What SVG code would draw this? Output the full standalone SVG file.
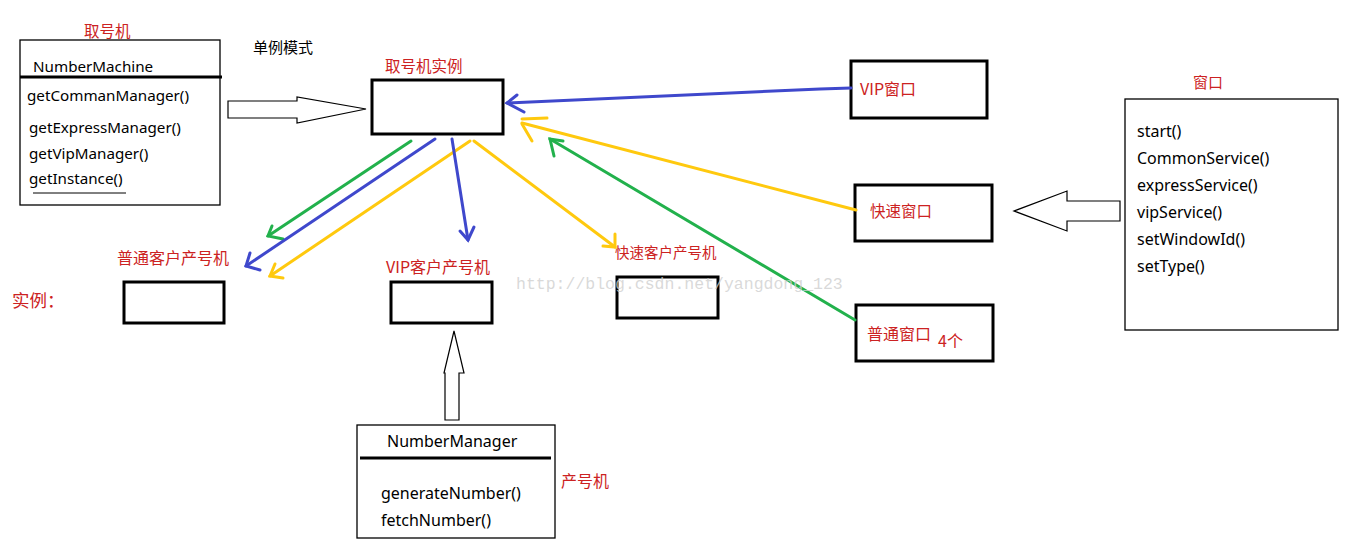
<svg xmlns="http://www.w3.org/2000/svg" width="1347" height="543" viewBox="0 0 1347 543">
<style>
.bg{fill:#fff}
.thin{fill:#fff;stroke:#000;stroke-width:1.3}
.thick{fill:#fff;stroke:#000;stroke-width:3}
.t{font-family:"Noto Sans","Liberation Sans","Noto Sans CJK SC",sans-serif;font-size:15.2px;fill:#000}
.t2{font-family:"Noto Sans","Liberation Sans","Noto Sans CJK SC",sans-serif;font-size:16px;fill:#000}
.r{font-family:"Noto Sans CJK SC","Noto Sans",sans-serif;font-size:15.5px;fill:#cc2222}
.k{font-family:"Noto Sans CJK SC",sans-serif;font-size:15px;fill:#000}
.wm{font-family:"Liberation Mono",monospace;font-size:16.5px;fill:#cfcfcf;fill-opacity:0.8}
.hollow{fill:#fff;stroke:#000;stroke-width:1.2;stroke-linejoin:miter}
.b{stroke:#3f48cc;stroke-width:3;fill:none;stroke-linecap:round}
.g{stroke:#22b14c;stroke-width:3;fill:none;stroke-linecap:round}
.y{stroke:#ffc90e;stroke-width:3;fill:none;stroke-linecap:round}
</style>
<rect class="bg" x="0" y="0" width="1347" height="543"/>

<g id="numberMachine">
<text class="r" x="84" y="37">取号机</text>
<rect class="thin" x="20" y="40" width="200" height="165"/>
<line x1="20" y1="77" x2="222" y2="77" stroke="#000" stroke-width="3"/>
<text class="t" x="33" y="72">NumberMachine</text>
<text class="t" x="27" y="101">getCommanManager()</text>
<text class="t" x="29" y="133">getExpressManager()</text>
<text class="t" x="29" y="159">getVipManager()</text>
<text class="t" x="29" y="184">getInstance()</text>
<line x1="33" y1="193" x2="126" y2="193" stroke="#000" stroke-width="1"/>
</g>

<g id="singletonLabel">
<text class="k" x="253" y="53">单例模式</text>
</g>

<g id="instance">
<text class="r" x="385" y="72">取号机实例</text>
<rect class="thick" x="372" y="80" width="131" height="54"/>
</g>

<g id="vipWindow">
<rect class="thick" x="851" y="61" width="136" height="57"/>
<text class="r" x="860" y="95" style="font-size:16px">VIP窗口</text>
</g>
<g id="expressWindow">
<rect class="thick" x="855" y="185" width="137" height="56"/>
<text class="r" x="870" y="217">快速窗口</text>
</g>
<g id="commonWindow">
<rect class="thick" x="856" y="305" width="137" height="56"/>
<text class="r" x="867" y="340" style="font-size:16px">普通窗口</text>
<text class="r" x="938" y="347" style="font-size:16px">4个</text>
</g>

<g id="window">
<text class="r" x="1193" y="88" style="font-size:15px">窗口</text>
<rect class="thin" x="1125" y="99" width="213" height="231"/>
<text class="t2" x="1137" y="137">start()</text>
<text class="t2" x="1137" y="164">CommonService()</text>
<text class="t2" x="1137" y="191">expressService()</text>
<text class="t2" x="1137" y="218">vipService()</text>
<text class="t2" x="1137" y="245">setWindowId()</text>
<text class="t2" x="1137" y="272">setType()</text>
</g>

<g id="instanceLabel">
<text class="r" x="12" y="307" style="font-size:17.5px">实例：</text>
</g>

<g id="commonGen">
<text class="r" x="117" y="264" style="font-size:16px">普通客户产号机</text>
<rect class="thick" x="124" y="282" width="100" height="41"/>
</g>
<g id="vipGen">
<text class="r" x="386" y="273" style="font-size:16px">VIP客户产号机</text>
<rect class="thick" x="391" y="282" width="101" height="41"/>
</g>
<g id="expressGen">
<text class="r" x="615" y="258" style="font-size:14.5px">快速客户产号机</text>
<rect class="thick" x="617" y="277" width="101" height="41"/>
</g>

<g id="numberManager">
<rect class="thin" x="357" y="425" width="198" height="113"/>
<text class="t2" x="387" y="447">NumberManager</text>
<line x1="360" y1="458" x2="551" y2="458" stroke="#000" stroke-width="3"/>
<text class="t2" x="381" y="499">generateNumber()</text>
<text class="t2" x="381" y="526">fetchNumber()</text>
<text class="r" x="561" y="487" style="font-size:16px">产号机</text>
</g>

<g id="connectors">
<polygon class="hollow" points="228,101 297,101 297,97 366,109 297,123 297,118 228,118"/>
<polygon class="hollow" points="1120,201 1067,201 1067,191 1014,211 1067,231 1067,221 1120,221"/>
<polygon class="hollow" points="445,420 445,373 444,373 454,331 464,373 459,373 459,420"/>

<line class="g" x1="411" y1="141" x2="268" y2="236"/>
<polyline class="g" points="272,226 268,236 283,239"/>
<line class="b" x1="435" y1="139" x2="246" y2="266"/>
<polyline class="b" points="250,253 246,266 260,270"/>
<line class="y" x1="470" y1="141" x2="270" y2="276"/>
<polyline class="y" points="275,264 270,276 283,278"/>
<line class="b" x1="452" y1="139" x2="468" y2="240"/>
<polyline class="b" points="460,231 468,240 474,227"/>
<line class="y" x1="474" y1="141" x2="615" y2="247"/>
<polyline class="y" points="603,246 615,247 615,234"/>

<polyline class="b" points="851,88 820,89 507,103"/>
<polyline class="b" points="517,95 507,103 524,112"/>
<line class="y" x1="856" y1="210" x2="522" y2="123"/>
<line class="y" x1="522" y1="119" x2="547" y2="118"/>
<line class="y" x1="522" y1="124" x2="532" y2="141"/>
<line class="g" x1="855" y1="320" x2="550" y2="139"/>
<polyline class="g" points="554,156 550,139 563,141"/>
</g>

<text class="wm" x="516" y="289">http://blog.csdn.net/yangdong_123</text>
</svg>
